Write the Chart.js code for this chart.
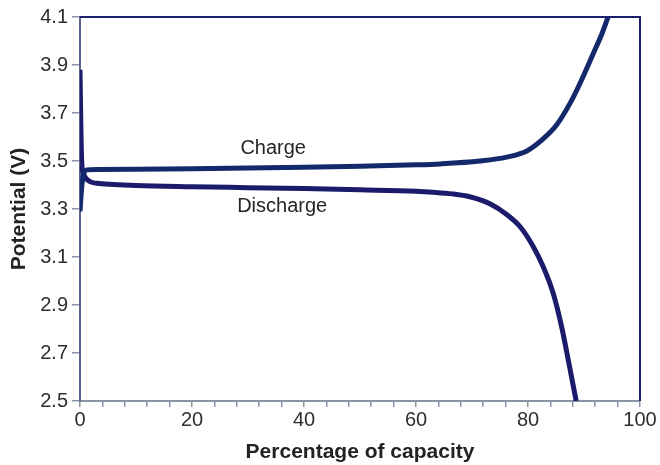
<!DOCTYPE html>
<html>
<head>
<meta charset="utf-8">
<script src="https://cdn.jsdelivr.net/npm/chart.js@4"></script>
<style>
  html, body { margin: 0; padding: 0; background: #fff; }
  #wrap { width: 660px; height: 465px; }
</style>
</head>
<body>
<div id="wrap"><canvas id="voltageChart"></canvas></div>
<script>
// Charge / discharge curves, potential (V) vs percentage of capacity
const chargeCapacity = [0, 0.3, 0.6, 1.2, 3, 10, 20, 30, 40, 50, 60, 64.3, 71.4, 76.2, 79.8, 82.7, 85.1, 87.5, 89.3, 91.7, 93.2, 94.3];
const chargeVoltage  = [3.29, 3.39, 3.44, 3.463, 3.465, 3.466, 3.468, 3.471, 3.474, 3.478, 3.484, 3.488, 3.50, 3.516, 3.542, 3.592, 3.65, 3.74, 3.824, 3.95, 4.03, 4.1];

const dischargeCapacity = [0, 0.15, 0.3, 0.6, 1.0, 1.8, 3, 6, 10, 20, 30, 40, 50, 60, 63, 66.5, 69.6, 73.2, 76.2, 78.6, 80.95, 82.7, 84.5, 86.0, 87.2, 88.6];
const dischargeVoltage  = [3.88, 3.65, 3.5, 3.45, 3.43, 3.414, 3.407, 3.402, 3.398, 3.393, 3.389, 3.385, 3.38, 3.374, 3.37, 3.363, 3.351, 3.322, 3.277, 3.226, 3.143, 3.06, 2.949, 2.81, 2.67, 2.5];

const xTickValues = [0, 20, 40, 60, 80, 100];
const yTickValues = [2.5, 2.7, 2.9, 3.1, 3.3, 3.5, 3.7, 3.9, 4.1];

const toPoints = (xs, ys) => xs.map((x, i) => ({ x: x, y: ys[i] }));

const FONT = "'Liberation Sans', Arial, sans-serif";

// Navy frame on the top and right sides, plus the curve labels
const framePlugin = {
    id: 'frame',
    afterDatasetsDraw(chart) {
        const { ctx, chartArea: a, scales } = chart;
        ctx.save();
        ctx.strokeStyle = '#1c1f6b';
        ctx.lineWidth = 2;
        ctx.beginPath();
        ctx.moveTo(a.left, a.top);
        ctx.lineTo(a.right, a.top);
        ctx.lineTo(a.right, a.bottom);
        ctx.stroke();

        ctx.fillStyle = '#262626';
        ctx.font = '20px ' + FONT;
        ctx.textAlign = 'center';
        ctx.textBaseline = 'middle';
        ctx.fillText('Charge', scales.x.getPixelForValue(34.5), scales.y.getPixelForValue(3.554));
        ctx.fillText('Discharge', scales.x.getPixelForValue(36.1), scales.y.getPixelForValue(3.312));
        ctx.restore();
    }
};

const ctx = document.getElementById('voltageChart').getContext('2d');
const voltageChart = new Chart(ctx, {
    type: 'line',
    data: {
        datasets: [{
            label: 'Charge',
            data: toPoints(chargeCapacity, chargeVoltage),
            borderColor: '#14296b',
            borderWidth: 5,
            pointRadius: 0,
            cubicInterpolationMode: 'monotone',
            fill: false
        },
        {
            label: 'Discharge',
            data: toPoints(dischargeCapacity, dischargeVoltage),
            borderColor: '#1c1b6b',
            borderWidth: 5,
            pointRadius: 0,
            cubicInterpolationMode: 'monotone',
            fill: false
        }]
    },
    options: {
        responsive: true,
        maintainAspectRatio: false,
        animation: false,
        layout: {
            padding: { top: 17, right: 20, left: 0, bottom: 0 }
        },
        plugins: {
            legend: { display: false },
            tooltip: { enabled: false }
        },
        scales: {
            x: {
                type: 'linear',
                min: 0,
                max: 100,
                afterBuildTicks: function(axis) {
                    const t = [];
                    for (let v = 0; v <= 100; v += 4) t.push({ value: v });
                    axis.ticks = t;
                },
                afterFit: function(axis) { axis.height = 64; },
                ticks: {
                    autoSkip: false,
                    maxRotation: 0,
                    padding: 1,
                    color: '#2e2e2e',
                    font: { family: FONT, size: 20 },
                    callback: function(value) {
                        return xTickValues.includes(value) ? String(value) : '';
                    }
                },
                grid: {
                    drawOnChartArea: false,
                    drawTicks: true,
                    tickLength: 6,
                    color: '#8a93a6',
                    lineWidth: 1.5
                },
                border: { color: '#8a93a6', width: 2 },
                title: {
                    display: true,
                    text: 'Percentage of capacity',
                    color: '#222',
                    font: { family: FONT, size: 21, weight: 'bold' },
                    padding: { top: 3, bottom: 0 }
                }
            },
            y: {
                type: 'linear',
                min: 2.5,
                max: 4.1,
                afterBuildTicks: function(axis) {
                    axis.ticks = yTickValues.map(v => ({ value: v }));
                },
                afterFit: function(axis) { axis.width = 80; },
                ticks: {
                    autoSkip: false,
                    padding: 4,
                    color: '#2e2e2e',
                    font: { family: FONT, size: 20 },
                    callback: function(value) { return value.toFixed(1); }
                },
                grid: {
                    drawOnChartArea: false,
                    drawTicks: true,
                    tickLength: 8,
                    color: '#8a93a6',
                    lineWidth: 1.5
                },
                border: { color: '#5a6290', width: 2 },
                title: {
                    display: true,
                    text: 'Potential (V)',
                    color: '#222',
                    font: { family: FONT, size: 21, weight: 'bold' },
                    padding: { top: 7, bottom: 0 }
                }
            }
        }
    },
    plugins: [framePlugin]
});
</script>
</body>
</html>
